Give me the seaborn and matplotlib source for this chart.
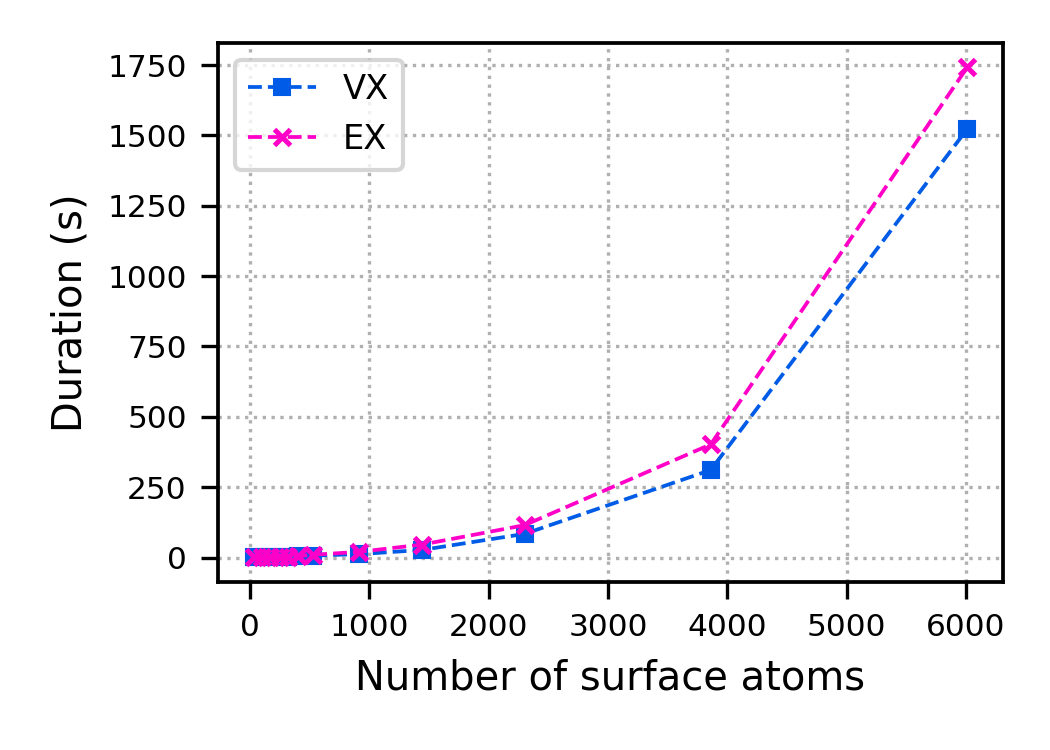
import matplotlib
matplotlib.use("Agg")
import matplotlib.pyplot as plt
import seaborn as sns

# values
atoms = [30, 100, 170, 250, 320, 400, 530, 910, 1440, 2300, 3860, 6010]
vx_time = [0.2, 0.5, 1, 1.5, 2.5, 4, 7, 12, 27, 84, 311, 1523]
ex_time = [0.3, 0.7, 1.2, 2, 3, 5, 10, 20, 46, 115, 402, 1742]

sns.set_style("ticks", {'axes.edgecolor': 'black', 'text.color': 'black',
                        'axes.labelcolor': 'black', 'xtick.color': 'black',
                        'ytick.color': 'black'})
plt.rcParams['font.family'] = ['DejaVu Sans']

fig = plt.figure(figsize=(3.5, 2.5), dpi=300)
ax = fig.add_axes([0.2076, 0.224, 0.7476, 0.719])

blue = '#005ce6'
pink = '#ff00c8'
sns.lineplot(x=atoms, y=vx_time, ax=ax, color=blue, marker='s', markersize=4,
             markeredgewidth=0.5, markeredgecolor=blue, linestyle='--',
             linewidth=0.9, label='VX')
sns.lineplot(x=atoms, y=ex_time, ax=ax, color=pink, marker='x', markersize=4,
             markeredgewidth=1.2, markeredgecolor=pink, linestyle='--',
             linewidth=0.9, label='EX')

ax.set_xlabel('Number of surface atoms', fontsize=9.6)
ax.set_ylabel('Duration (s)', fontsize=9.6)
ax.set_xticks(range(0, 7000, 1000))
ax.set_yticks(range(0, 2000, 250))
ax.tick_params(labelsize=7.5, length=4, width=0.8)
ax.grid(True, linestyle=':', color='#b0b0b0', linewidth=0.8)
for s in ax.spines.values():
    s.set_linewidth(0.9)
ax.legend(loc='upper left', fontsize=8.1)

fig.savefig('out.png', dpi=300)
